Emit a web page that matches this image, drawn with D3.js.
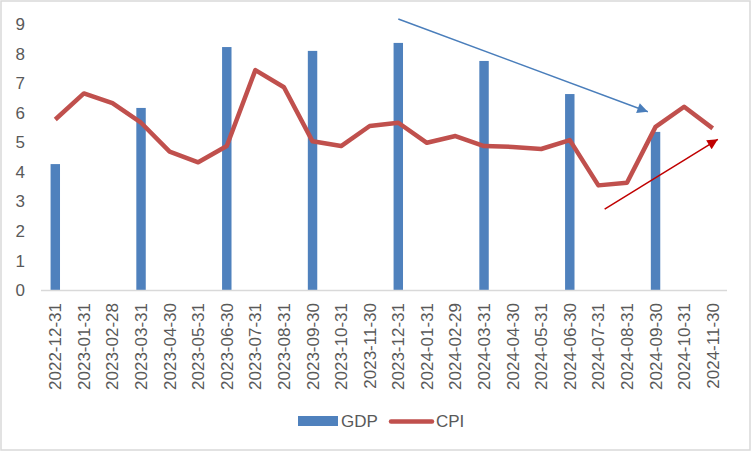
<!DOCTYPE html>
<html><head><meta charset="utf-8">
<script src="https://cdn.jsdelivr.net/npm/d3@7/dist/d3.min.js"></script>
<style>body{margin:0;background:#fff}svg{display:block}text{font-family:"Liberation Sans",Arial,sans-serif;fill:#595959}</style>
</head><body>
<script>
const categories = ["2022-12-31","2023-01-31","2023-02-28","2023-03-31","2023-04-30","2023-05-31","2023-06-30","2023-07-31","2023-08-31","2023-09-30","2023-10-31","2023-11-30","2023-12-31","2024-01-31","2024-02-29","2024-03-31","2024-04-30","2024-05-31","2024-06-30","2024-07-31","2024-08-31","2024-09-30","2024-10-31","2024-11-30"];
const gdp = [4.26,null,null,6.16,null,null,8.22,null,null,8.09,null,null,8.36,null,null,7.75,null,null,6.63,null,null,5.35,null,null];
const cpi = [5.77,6.65,6.32,5.66,4.68,4.32,4.87,7.44,6.86,5.03,4.87,5.55,5.66,4.98,5.21,4.87,4.84,4.77,5.07,3.54,3.63,5.52,6.20,5.47];
const yTicks = [0,1,2,3,4,5,6,7,8,9];
// annotation arrows in data units: [categoryIndex, value]
const blueArrow = [[12.0, 9.17],[20.73, 6.03]];
const redArrow = [[19.22, 2.74],[23.18, 5.10]];
const seriesNames = ["GDP","CPI"];

const W=752,H=452;
const svg=d3.select("body").append("svg").attr("width",W).attr("height",H);
svg.append("rect").attr("x",1).attr("y",1).attr("width",W-3).attr("height",H-3).attr("fill","#fff").attr("stroke","#d9d9d9").attr("stroke-width",1.5);

const x=d3.scaleBand().domain(categories).range([41,727]).padding(0);
const bw=x.bandwidth();
const y=d3.scaleLinear().domain([0,9]).range([290,24]);
const xi=d3.scaleLinear().domain([0,categories.length-1]).range([x(categories[0])+bw/2,x(categories[categories.length-1])+bw/2]);

const defs=svg.append("defs");
function marker(id,color){
  defs.append("marker").attr("id",id).attr("viewBox","0 0 10 10").attr("refX",10).attr("refY",5)
    .attr("markerWidth",9).attr("markerHeight",7).attr("markerUnits","strokeWidth").attr("orient","auto")
    .append("path").attr("d","M0,0L10,5L0,10Z").attr("fill",color);
}

// bars
svg.append("g").selectAll("rect").data(categories.map((c,i)=>({c,v:gdp[i]})).filter(d=>d.v!=null))
 .join("rect").attr("x",d=>x(d.c)+bw*0.335).attr("width",bw*0.33)
 .attr("y",d=>y(d.v)).attr("height",d=>y(0)-y(d.v)).attr("fill","#4f81bd");

// axis line
svg.append("line").attr("x1",41).attr("x2",727).attr("y1",y(0)+0.5).attr("y2",y(0)+0.5).attr("stroke","#d9d9d9").attr("stroke-width",1.5);

// y labels
svg.append("g").selectAll("text").data(yTicks).join("text")
 .attr("x",25).attr("y",d=>y(d)).attr("dy","0.36em").attr("text-anchor","end").attr("font-size",17).text(d=>d);

// x labels
svg.append("g").selectAll("text").data(categories).join("text")
 .attr("transform",d=>`translate(${x(d)+bw/2+6},303) rotate(-90)`).attr("text-anchor","end").attr("font-size",17).text(d=>d);

// cpi line
const line=d3.line().x((d,i)=>x(categories[i])+bw/2).y(d=>y(d));
svg.append("path").attr("d",line(cpi)).attr("fill","none").attr("stroke","#c0504d").attr("stroke-width",4.5).attr("stroke-linejoin","round");

// arrows
marker("ab","#4a7ebb"); marker("ar","#c00000");
svg.append("line").attr("x1",xi(blueArrow[0][0])).attr("y1",y(blueArrow[0][1])).attr("x2",xi(blueArrow[1][0])).attr("y2",y(blueArrow[1][1]))
 .attr("stroke","#4a7ebb").attr("stroke-width",1.5).attr("marker-end","url(#ab)");
svg.append("line").attr("x1",xi(redArrow[0][0])).attr("y1",y(redArrow[0][1])).attr("x2",xi(redArrow[1][0])).attr("y2",y(redArrow[1][1]))
 .attr("stroke","#c00000").attr("stroke-width",1.5).attr("marker-end","url(#ar)");

// legend
const lg=svg.append("g");
lg.append("rect").attr("x",298).attr("y",416).attr("width",40).attr("height",10).attr("fill","#4f81bd");
lg.append("text").attr("x",341).attr("y",421).attr("dy","0.36em").attr("font-size",17).text(seriesNames[0]);
lg.append("line").attr("x1",391).attr("x2",432).attr("y1",421.5).attr("y2",421.5).attr("stroke","#c0504d").attr("stroke-width",4.5).attr("stroke-linecap","round");
lg.append("text").attr("x",436).attr("y",421).attr("dy","0.36em").attr("font-size",17).text(seriesNames[1]);
</script>
</body></html>
